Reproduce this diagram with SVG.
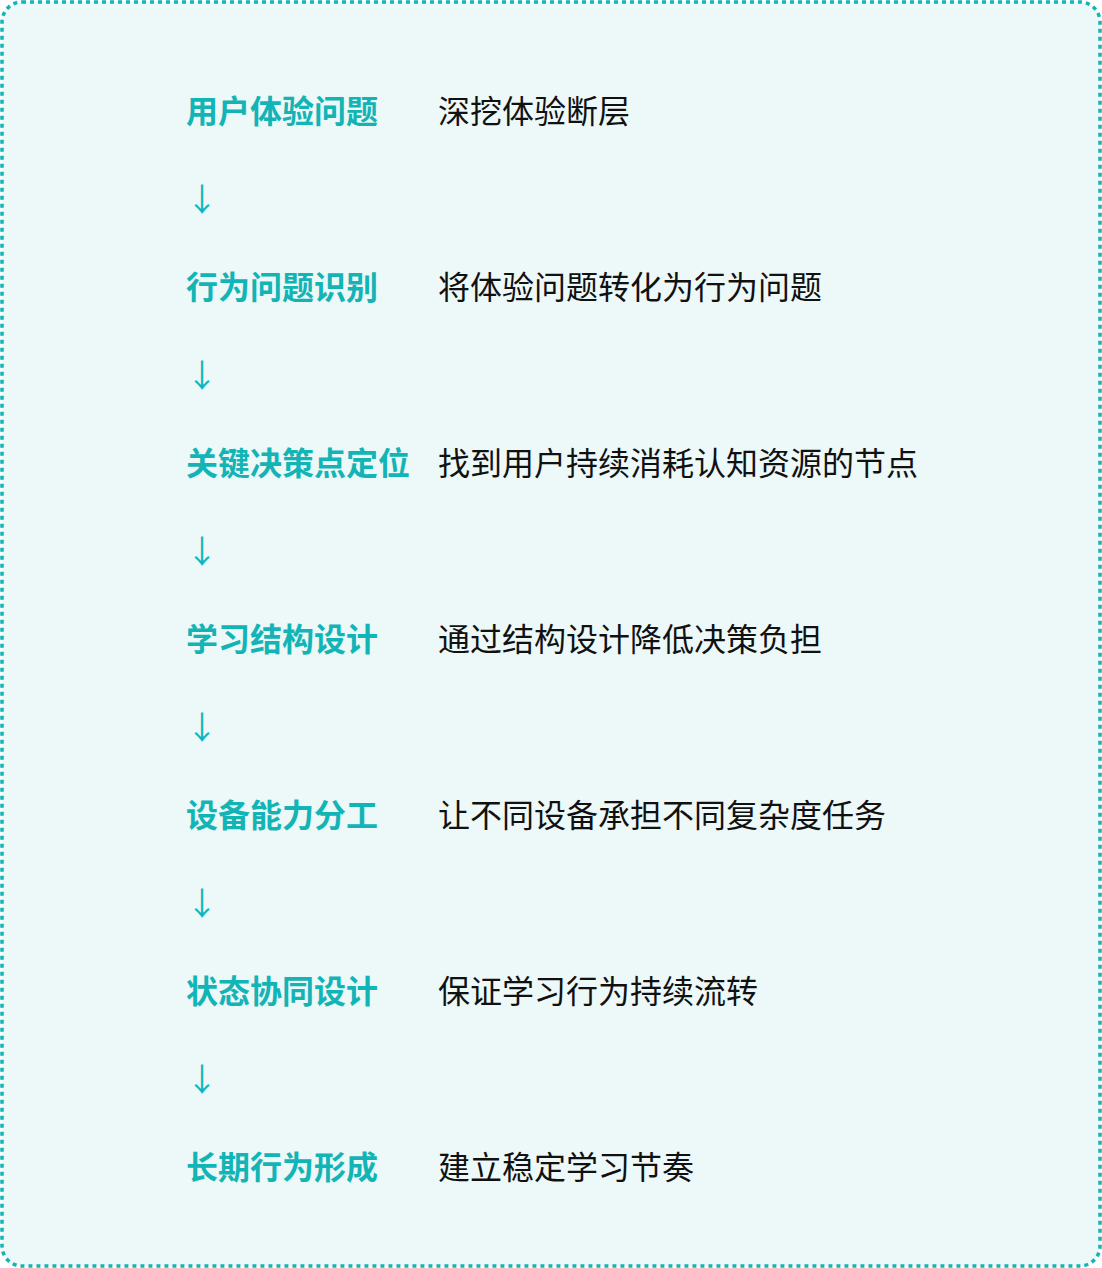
<svg xmlns="http://www.w3.org/2000/svg" width="1102" height="1268" viewBox="0 0 1102 1268">
<style>
.lbl{font-family:"Noto Sans CJK SC","Noto Sans",sans-serif;font-size:32px;font-weight:700;fill:#13B4B6}
.desc{font-family:"Noto Sans CJK SC","Noto Sans",sans-serif;font-size:32px;font-weight:400;fill:#111111}
.arr{font-family:"Noto Sans CJK SC","DejaVu Sans",sans-serif;font-size:32px;fill:#13B4B6}
</style>
<rect x="2" y="2" width="1098" height="1264" rx="20" ry="20" fill="#EDF8F8" stroke="#13B4B6" stroke-width="3.5" stroke-dasharray="4 4"/>
<g id="node1"><text class="lbl" x="186" y="122.5">用户体验问题</text><text class="desc" x="438" y="122.5">深挖体验断层</text></g>
<g id="node2"><text class="lbl" x="186" y="298.5">行为问题识别</text><text class="desc" x="438" y="298.5">将体验问题转化为行为问题</text></g>
<g id="node3"><text class="lbl" x="186" y="474.5">关键决策点定位</text><text class="desc" x="438" y="474.5">找到用户持续消耗认知资源的节点</text></g>
<g id="node4"><text class="lbl" x="186" y="650.5">学习结构设计</text><text class="desc" x="438" y="650.5">通过结构设计降低决策负担</text></g>
<g id="node5"><text class="lbl" x="186" y="826.5">设备能力分工</text><text class="desc" x="438" y="826.5">让不同设备承担不同复杂度任务</text></g>
<g id="node6"><text class="lbl" x="186" y="1002.5">状态协同设计</text><text class="desc" x="438" y="1002.5">保证学习行为持续流转</text></g>
<g id="node7"><text class="lbl" x="186" y="1178.5">长期行为形成</text><text class="desc" x="438" y="1178.5">建立稳定学习节奏</text></g>
<g id="connectors">
<text class="arr" x="186" y="210.5">↓</text>
<text class="arr" x="186" y="386.5">↓</text>
<text class="arr" x="186" y="562.5">↓</text>
<text class="arr" x="186" y="738.5">↓</text>
<text class="arr" x="186" y="914.5">↓</text>
<text class="arr" x="186" y="1090.5">↓</text>
</g>
</svg>
